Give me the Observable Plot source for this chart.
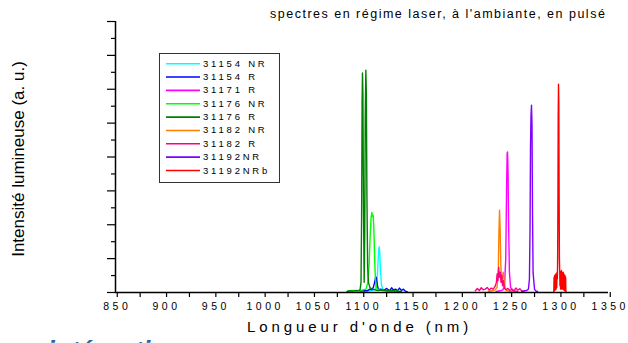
<!DOCTYPE html>
<html><head><meta charset="utf-8">
<script src="https://cdn.jsdelivr.net/npm/d3@7"></script>
<script src="https://cdn.jsdelivr.net/npm/@observablehq/plot@0.6"></script>
<style>
body{margin:0;background:#fff;}
#wrap{position:relative;width:628px;height:343px;overflow:hidden;font-family:"Liberation Sans",Arial,sans-serif;color:#000;}
#wrap svg.plot text{letter-spacing:3.5px;}
.abs{position:absolute;white-space:nowrap;}
</style></head><body><div id="wrap"></div>
<script>
// ---- data ----
const seriesNames = ["31154 NR","31154 R","31171 R","31176 NR","31176 R","31182 NR","31182 R","31192NR","31192NRb"];
const seriesColors = ["#00ffff","#0000ff","#ff00ff","#00ff00","#008000","#ff8000","#ff0080","#8000ff","#ff0000"];

const wl_31154NR = [1100,1108,1112,1114,1115.3,1116.2,1116.9,1117.4,1118,1118.7,1119.6,1121,1124,1130,1135];
const in_31154NR = [0.03,0.05,0.08,0.12,0.35,0.85,1.25,1.35,1.2,0.7,0.25,0.1,0.06,0.04,0.03];

const wl_31154R = [1098,1102,1105,1108,1110,1111.5,1112.8,1113.7,1114.4,1115.1,1116,1117.5,1119,1122,1125,1128,1130,1132,1134,1136,1138,1140,1142,1144,1146];
const in_31154R = [0.04,0.06,0.05,0.1,0.08,0.15,0.3,0.43,0.45,0.32,0.15,0.08,0.1,0.06,0.12,0.05,0.14,0.07,0.1,0.05,0.13,0.06,0.1,0.04,0.02];

const wl_31171R = [1236,1240,1243,1244.5,1245.8,1246.6,1247.2,1247.6,1248.1,1248.7,1249.5,1250.7,1253,1258];
const in_31171R = [0.03,0.05,0.08,0.2,1.0,3.0,4.1,4.15,3.6,2.0,0.6,0.15,0.05,0.03];

const wl_31176NR = [1085,1090,1095,1100,1104,1106,1107.3,1108.3,1109.2,1110,1110.6,1111.3,1112,1112.8,1113.6,1114.5,1116,1118,1122,1128,1135,1140];
const in_31176NR = [0.04,0.06,0.05,0.07,0.1,0.3,0.9,1.7,2.2,2.36,2.25,2.28,1.9,1.0,0.4,0.15,0.1,0.07,0.06,0.05,0.04,0.03];

const wl_31176R = [1085,1088,1091,1094,1096,1098,1099,1099.6,1100.1,1100.5,1100.9,1101.5,1102.2,1102.8,1103.3,1103.9,1104.4,1105,1105.7,1106.5,1108,1110,1113,1116,1120,1125,1130,1135,1140];
const in_31176R = [0.03,0.05,0.04,0.06,0.05,0.08,0.3,2.2,5.6,6.48,5.9,2.6,0.3,1.8,5.2,6.56,5.9,2.8,0.8,0.3,0.15,0.1,0.08,0.06,0.07,0.05,0.06,0.04,0.03];

const wl_31182NR = [1228,1232,1235,1237,1238.2,1238.9,1239.5,1240.1,1240.8,1241.6,1242.4,1243.2,1244,1245,1246.5,1249,1253];
const in_31182NR = [0.03,0.05,0.08,0.15,0.6,1.8,2.43,1.9,0.8,0.35,0.45,0.6,0.4,0.15,0.06,0.04,0.03];

const wl_31182R = [1215,1217,1219,1221,1223,1225,1227,1229,1231,1233,1235,1236.3,1237.1,1237.8,1238.6,1239.4,1240.2,1241,1241.8,1242.6,1243.5,1244.5,1246,1248,1250,1252,1254,1256,1258,1260,1262,1264];
const in_31182R = [0.05,0.12,0.06,0.14,0.08,0.1,0.15,0.07,0.13,0.1,0.18,0.3,0.55,0.35,0.74,0.45,0.6,0.3,0.5,0.2,0.35,0.12,0.08,0.12,0.06,0.1,0.05,0.13,0.07,0.11,0.05,0.03];

const wl_31192NR = [1262,1265,1267,1268.8,1269.8,1270.4,1270.9,1271.4,1271.9,1272.4,1272.9,1273.5,1274.2,1275,1276.2,1278];
const in_31192NR = [0.03,0.05,0.06,0.1,0.4,1.8,4.3,5.2,5.53,5.0,2.5,0.6,0.35,0.1,0.05,0.03];

const wl_31192NRb = [1294.5,1294.8,1295.1,1295.4,1295.7,1296,1296.3,1296.6,1296.9,1297.2,1297.5,1297.8,1298.1,1298.4,1298.7,1299,1299.3,1299.6,1299.9,1300.2,1300.5,1300.8,1301.1,1301.4,1301.7,1302,1302.3,1302.6,1302.9,1303.2,1303.5,1303.8,1304.1,1304.4,1304.7,1305,1305.3,1305.6,1305.9,1306.2,1306.5,1306.8,1307.1];
const in_31192NRb = [0,0.45,0.05,0.5,0.1,0.52,0.08,0.55,0.1,0.5,0.15,0.6,0.4,0.9,2.6,5.2,6.15,5.6,3.0,1.0,0.65,0.2,0.62,0.1,0.6,0.15,0.65,0.1,0.6,0.12,0.58,0.1,0.6,0.08,0.55,0.1,0.52,0.05,0.5,0.08,0.45,0.05,0];

const xTickLabels = [850,900,950,1000,1050,1100,1150,1200,1250,1300,1350];
const xMinorTicks = [875,925,975,1025,1075,1125,1175,1225,1275,1325];
const yMajorTicks = [0,1,2,3,4,5,6,7,8];
const yMinorTicks = [0.5,1.5,2.5,3.5,4.5,5.5,6.5,7.5];

const titleText = "spectres en régime laser, à l'ambiante, en pulsé";
const xLabel = "Longueur d'onde (nm)";
const yLabel = "Intensité lumineuse (a. u.)";
const footText = "en intégration";

// ---- build ----
const wls = [wl_31154NR, wl_31154R, wl_31171R, wl_31176NR, wl_31176R, wl_31182NR, wl_31182R, wl_31192NR, wl_31192NRb];
const ins = [in_31154NR, in_31154R, in_31171R, in_31176NR, in_31176R, in_31182NR, in_31182R, in_31192NR, in_31192NRb];
const data = [];
seriesNames.forEach((name, i) => wls[i].forEach((w, j) => data.push({series: name, wl: w, v: ins[i][j]})));

const chart = Plot.plot({
  width: 628, height: 343,
  marginLeft: 115, marginRight: 20, marginTop: 21, marginBottom: 51,
  x: {domain: [850, 1350]},
  y: {domain: [0, 8]},
  color: {domain: seriesNames, range: seriesColors},
  style: {fontFamily: "'Liberation Sans', Arial, sans-serif", fontSize: "10.5px", background: "transparent", color: "#000", overflow: "visible"},
  marks: [
    Plot.axisY({ticks: yMinorTicks, tickSize: 4, tickFormat: () => "", label: null, strokeWidth: 1.2}),
    Plot.axisY({ticks: yMajorTicks, tickSize: 8, tickFormat: () => "", label: null, strokeWidth: 1.2}),
    Plot.axisX({ticks: xMinorTicks, tickSize: 5, tickFormat: () => "", label: null, strokeWidth: 1.2}),
    Plot.axisX({ticks: xTickLabels, tickSize: 5, tickPadding: 5, tickFormat: d3.format("d"), label: null, strokeWidth: 1.2, dx: 1.75, fontSize: 10.5}),
    Plot.line(data, {x: "wl", y: "v", z: "series", stroke: "series", strokeWidth: 1.4}),
    Plot.ruleX([850], {stroke: "#000", strokeWidth: 1.5}),
    Plot.ruleY([0], {stroke: "#000", strokeWidth: 1.5})
  ]
});
chart.classList.add("plot");
const wrap = document.getElementById("wrap");
chart.style.position = "absolute"; chart.style.left = "0"; chart.style.top = "0";
wrap.appendChild(chart);

function addDiv(text, css) {
  const d = document.createElement("div");
  d.className = "abs"; d.textContent = text;
  Object.assign(d.style, css);
  wrap.appendChild(d);
  return d;
}
addDiv(titleText, {left: "270px", top: "7px", fontSize: "12.5px", lineHeight: "15px", letterSpacing: "1.5px"});
addDiv(xLabel, {left: "247px", top: "318px", fontSize: "15px", lineHeight: "18px", letterSpacing: "3.9px"});
addDiv(yLabel, {left: "-91px", top: "149px", width: "220px", height: "20px", lineHeight: "20px", fontSize: "17px", textAlign: "center", transform: "rotate(-90deg)"});
addDiv(footText, {left: "10px", top: "335px", fontSize: "26px", lineHeight: "30px", fontWeight: "bold", fontStyle: "italic", color: "#2a64a8"});

// legend
const box = document.createElement("div");
Object.assign(box.style, {position: "absolute", left: "159px", top: "53px", width: "119px", height: "128px", border: "1px solid #333", background: "#fff"});
wrap.appendChild(box);
const lsvg = d3.create("svg").attr("width", 628).attr("height", 343)
  .style("position", "absolute").style("left", 0).style("top", 0).style("pointer-events", "none");
seriesNames.forEach((name, i) => {
  const y = 63.7 + 13.35 * i;
  lsvg.append("line").attr("x1", 166).attr("x2", 200).attr("y1", y).attr("y2", y)
    .attr("stroke", seriesColors[i]).attr("stroke-width", 1.6);
  addDiv(name, {left: "203px", top: (y - 6) + "px", fontSize: "9.5px", lineHeight: "12px", letterSpacing: "2.8px"});
});
wrap.appendChild(lsvg.node());
</script></body></html>
